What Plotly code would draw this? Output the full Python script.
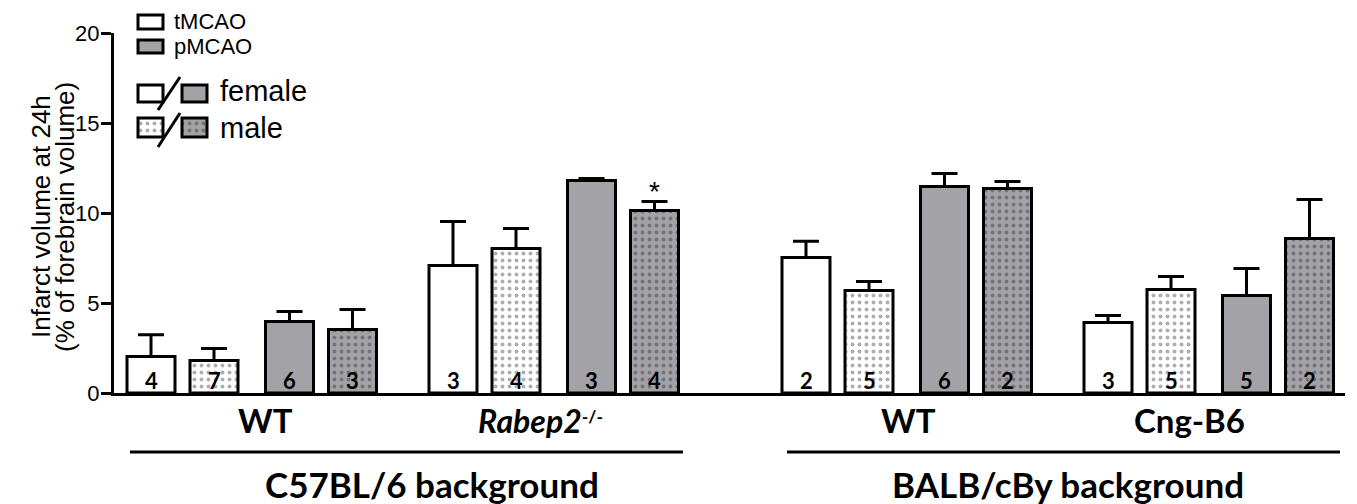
import plotly.graph_objects as go

# ---------------- data ----------------
group_labels = ["WT", "<i>Rabep2</i><span style='font-size:25px'><sup>-/-</sup></span>", "WT", "Cng-B6"]
background_labels = ["C57BL/6 background", "BALB/cBy background"]

series_names = ["tMCAO female", "tMCAO male", "pMCAO female", "pMCAO male"]
t_female = [2.03, 7.08, 7.53, 3.92]
t_female_err = [1.20, 2.45, 0.90, 0.38]
t_female_n = [4, 3, 2, 3]
t_male = [1.80, 8.03, 5.69, 5.75]
t_male_err = [0.67, 1.11, 0.50, 0.72]
t_male_n = [7, 4, 5, 5]
p_female = [3.97, 11.80, 11.47, 5.42]
p_female_err = [0.56, 0.12, 0.72, 1.50]
p_female_n = [6, 3, 6, 5]
p_male = [3.53, 10.14, 11.36, 8.58]
p_male_err = [1.11, 0.50, 0.39, 2.17]
p_male_n = [3, 4, 2, 2]
significance = ["", "*", "", ""]  # marks above pMCAO male bars

# ---------------- layout constants (pixels of the final page) ----------------
OFF = 8                      # default page margin around the plot div
W, H = 1357 - OFF, 504 - OFF
PLOT_L, PLOT_R, PLOT_T, PLOT_B = 114, 1345, 33, 393
FIRST_CENTER = 151
GROUP_PITCH = 302
BACKGROUND_EXTRA = 51
SLOT_OFFSETS = [0, 63, 138.5, 201.5]
BAR_W = 48
GREY = "#a3a2a7"
FONT_ARIAL = "Liberation Sans, Arial, sans-serif"
FONT_CAL = "Lato, Open Sans, sans-serif"


def xp(px):
    return (px - OFF) / W


def yp(py):
    return 1 - (py - OFF) / H


group_starts = []
for g in range(4):
    group_starts.append(FIRST_CENTER + g * GROUP_PITCH + (BACKGROUND_EXTRA if g >= 2 else 0))

series = [
    (t_female, t_female_err, t_female_n, "white", None),
    (t_male, t_male_err, t_male_n, "white", "#5e5e5e"),
    (p_female, p_female_err, p_female_n, GREY, None),
    (p_male, p_male_err, p_male_n, GREY, "#444444"),
]

fig = go.Figure()
annotations = []

for s, (vals, errs, ns, color, pat) in enumerate(series):
    xs = [gs + SLOT_OFFSETS[s] for gs in group_starts]
    marker = dict(color=color, line=dict(color="black", width=3))
    if pat:
        marker["pattern"] = dict(shape=".", fgcolor=pat, bgcolor=color, size=7, solidity=0.25)
    fig.add_trace(go.Bar(
        x=xs, y=vals, width=[BAR_W] * 4, name=series_names[s], marker=marker,
        error_y=dict(type="data", symmetric=False, array=errs, arrayminus=[0] * 4,
                     color="black", thickness=3, width=13),
        xaxis="x", yaxis="y", showlegend=False,
    ))
    for x, n in zip(xs, ns):
        annotations.append(dict(x=x, y=0, xref="x", yref="y", text=str(n), showarrow=False,
                                yanchor="middle", yshift=13,
                                font=dict(family=FONT_CAL, size=22, color="black", weight="bold")))

# significance star
for g, mark in enumerate(significance):
    if mark:
        annotations.append(dict(x=group_starts[g] + SLOT_OFFSETS[3], y=p_male[g] + p_male_err[g],
                                xref="x", yref="y", text=mark, showarrow=False, yanchor="middle",
                                yshift=10, font=dict(family=FONT_ARIAL, size=28, color="black")))

# group labels
label_centers = [265, 540, 908, 1189]
label_sizes = [33, 32, 33, 33]
for cx, lab, sz in zip(label_centers, group_labels, label_sizes):
    annotations.append(dict(x=xp(cx), y=yp(420), xref="paper", yref="paper", text=lab,
                            showarrow=False, yanchor="middle", xanchor="center",
                            font=dict(family=FONT_CAL, size=sz, color="black", weight="bold")))

bg_centers = [432, 1068]
for cx, lab in zip(bg_centers, background_labels):
    annotations.append(dict(x=xp(cx), y=yp(484), xref="paper", yref="paper", text=lab,
                            showarrow=False, yanchor="middle", xanchor="center",
                            font=dict(family=FONT_CAL, size=35, color="black", weight="bold")))

# y-axis title (two lines)
for cx, txt in [(41, "Infarct volume at 24h"), (65, "(% of forebrain volume)")]:
    annotations.append(dict(x=xp(cx), y=yp(217), xref="paper", yref="paper", text=txt,
                            showarrow=False, textangle=-90, xanchor="center", yanchor="middle",
                            font=dict(family=FONT_ARIAL, size=26, color="black")))

# legend texts
for tx, ty, txt, sz in [(172, 21, "tMCAO", 22), (172, 47, "pMCAO", 22),
                        (218, 91, "female", 29), (218, 128, "male", 29)]:
    annotations.append(dict(x=xp(tx), y=yp(ty), xref="paper", yref="paper", text=txt,
                            showarrow=False, xanchor="left", yanchor="middle",
                            font=dict(family=FONT_ARIAL, size=sz, color="black")))

# legend swatches in a small helper subplot (pixel units)
swatches = [
    (138, 22, 14, "white", None),
    (138, 46.5, 13, GREY, None),
    (138, 93.5, 17, "white", None),
    (182, 93.5, 17, GREY, None),
    (138, 127.5, 19, "white", "#5e5e5e"),
    (182, 127.5, 19, GREY, "#444444"),
]
for left, cy, h, color, pat in swatches:
    m = dict(color=color, line=dict(color="black", width=3))
    if pat:
        m["pattern"] = dict(shape=".", fgcolor=pat, bgcolor=color, size=7, solidity=0.25)
    fig.add_trace(go.Bar(orientation="h", y=[cy], x=[25], base=[left], width=[h], marker=m,
                         xaxis="x2", yaxis="y2", showlegend=False, hoverinfo="skip"))

shapes = [
    dict(type="line", xref="paper", yref="paper", x0=xp(130), x1=xp(683), y0=yp(452), y1=yp(452),
         line=dict(color="black", width=3)),
    dict(type="line", xref="paper", yref="paper", x0=xp(787), x1=xp(1340), y0=yp(452), y1=yp(452),
         line=dict(color="black", width=3)),
    dict(type="line", xref="paper", yref="paper", x0=xp(158), x1=xp(180), y0=yp(110), y1=yp(77),
         line=dict(color="black", width=3)),
    dict(type="line", xref="paper", yref="paper", x0=xp(158), x1=xp(180), y0=yp(147), y1=yp(113),
         line=dict(color="black", width=3)),
]

fig.update_layout(
    width=W, height=H, margin=dict(l=0, r=0, t=0, b=0, autoexpand=False),
    plot_bgcolor="white", paper_bgcolor="white", showlegend=False, barmode="overlay",
    xaxis=dict(domain=[xp(PLOT_L), xp(PLOT_R)], range=[PLOT_L, PLOT_R], showline=True,
               linewidth=3, linecolor="black", showgrid=False, zeroline=False,
               showticklabels=False, ticks="", anchor="y", automargin=False),
    yaxis=dict(domain=[yp(PLOT_B), yp(PLOT_T)], range=[0, 20], tickvals=[0, 5, 10, 15, 20],
               ticks="outside", ticklen=10, tickwidth=3, tickcolor="black", showline=True,
               linewidth=3, linecolor="black", showgrid=False, zeroline=False, anchor="x",
               ticklabelstandoff=-3,
               tickfont=dict(family=FONT_ARIAL, size=22, color="black"), automargin=False),
    xaxis2=dict(domain=[xp(130), xp(330)], range=[130, 330], visible=False, anchor="y2"),
    yaxis2=dict(domain=[yp(160), yp(8)], range=[160, 8], visible=False, anchor="x2"),
    annotations=annotations,
    shapes=shapes,
)

fig.write_html("out.html")
